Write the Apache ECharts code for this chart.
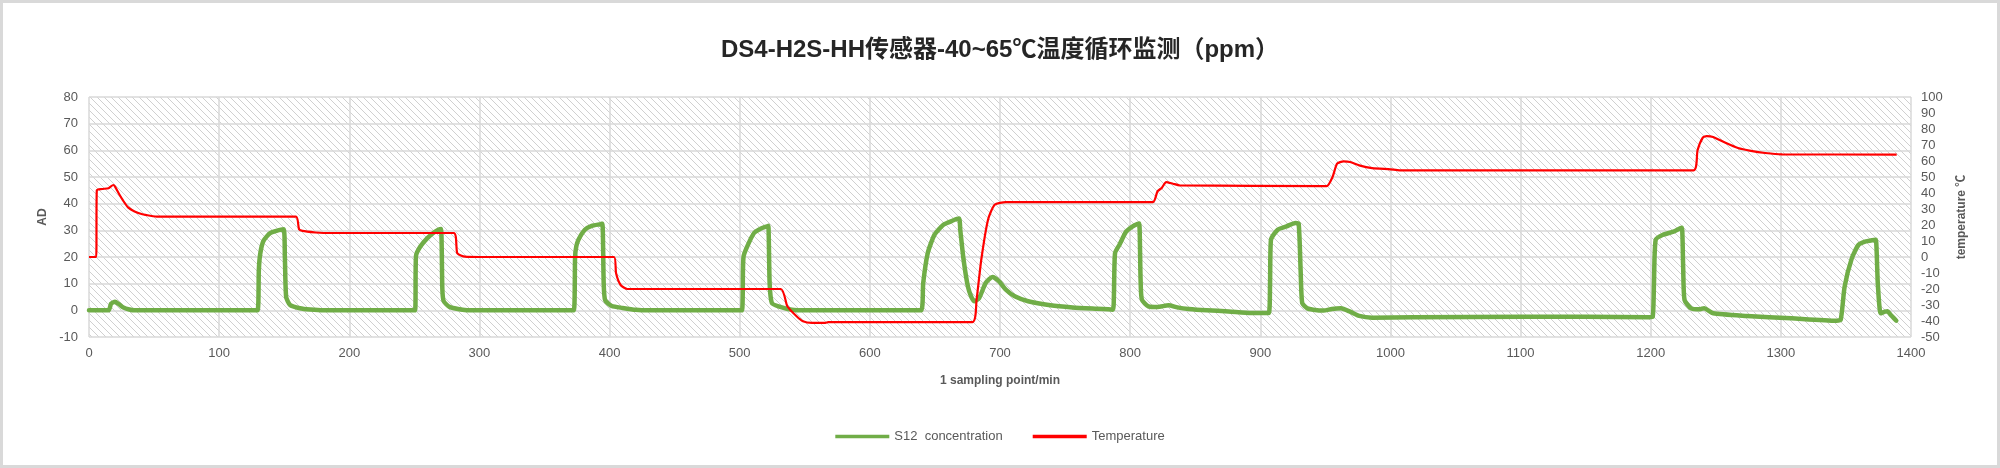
<!DOCTYPE html>
<html>
<head>
<meta charset="utf-8">
<script src="https://cdn.jsdelivr.net/npm/echarts@6/dist/echarts.min.js"></script>
<style>
html,body{margin:0;padding:0;background:#fff;}
#chart{width:2000px;height:468px;}
</style>
</head>
<body>
<div id="chart"></div>
<script>
// ---- data ----
var titleText = 'DS4-H2S-HH传感器-40~65℃温度循环监测（ppm）';
var seriesNames = ['S12  concentration', 'Temperature'];

// S12 concentration (AD, left axis)
var concX = [0,15,17,20,23,26,31,35,129.5,130.5,131.5,134,139,144,149.5,150.5,151.5,154.5,162,170,180,
  250.5,251.3,254.7,259.8,265,268.4,270.5,271.5,272.5,277,287,295,
  372.5,373.5,374.4,376,381,386.3,393,394.5,395.5,396.6,401.7,410,420,430,
  501.7,502.5,503,505.8,511,516,521,522,523,524.7,529.8,540,550,
  639.4,641,644.5,649.7,656.5,663.4,668.5,669.5,672,675.3,678,680.5,684,689,694.2,699.3,704.5,711.3,721.6,738.7,755.8,773,786.6,
  787.5,788.4,791.8,797,802,805.5,807,808,809,814,821,829.5,836.3,845,858.6,875.7,892.8,906.5,
  907.5,908.2,913.4,920.2,927,929.5,931,932.2,936,940.7,948.6,955,962,969,976,986,1017,1103,1150,1198.6,1201.5,
  1202.5,1203.8,1209,1217.5,1222.6,1224,1225,1226,1231,1238,1241,1248,1274,1308,1342.5,1346,
  1349,1354.5,1359.6,1364.7,1371.6,1373,1374.5,1376.7,1380,1382,1384,1388.7];
var concY = [0,0,2.5,3.2,2.3,1.2,0.3,0,0,15,21,26,28.9,29.8,30.4,20,5,2,0.8,0.3,0,
  0,20.5,24,27,29.2,30.2,30.5,8,3.5,1.3,0.2,0,
  0,20,23.9,26.4,30.2,31.7,32.3,32.5,10,3.8,1.6,0.9,0.2,0,
  0,15,20.3,24,29,30.6,31.5,31.7,10,2.75,1.5,0.25,0,
  0,10.25,21.5,28.4,32.1,33.6,34.4,30,19,9,5,3.4,4.6,10.25,12.5,10.9,7.75,5.25,3.4,1.9,1.1,0.6,0.25,
  5,21.5,24.6,29.6,31.5,32.4,32.6,12,4,1.5,1.25,1.9,1.1,0.5,0,-0.4,-1,-1,
  10,26.5,30.25,31.5,32.75,32.5,15,2.75,0.8,0.25,-0.1,0.5,0.75,-0.5,-2.1,-2.75,-2.6,-2.4,-2.4,-2.6,-2.5,
  10,26.4,28.25,29.5,30.75,31,15,3.9,0.75,0.4,0.8,-1.1,-2.1,-3,-3.9,-3.5,
  8.9,19.5,24.5,25.75,26.4,26.5,10,-1.1,-0.5,-0.3,-1.5,-3.9];

// Temperature (℃, right axis)
var tempX = [0,5.5,6,10,15,18.7,20,23,26,30,35,41,47,53,159,161.4,164,174,180,
  280.3,283,289,300,403.4,405,408.5,413.7,531.5,536.6,543.5,548.6,555.5,565.8,568,678.8,
  682,685.6,690.8,695.9,704.5,817.5,821,824.3,827.7,832.9,838,951,955.5,959,964,969,976,986,1000,1007,1233,
  1236,1240,1243,1248,1257,1267,1277,1288,1301,1389];
var tempY = [0,0,41.7,42.5,43,45,44,39.5,35.5,31,28.5,26.7,25.8,25.2,25.2,17.3,16.3,15.3,15,
  15,2.3,0.2,0,0,-10.2,-17.5,-20,-20,-30.8,-36.9,-40.2,-41.2,-41.2,-40.7,-40.7,
  -26.7,-1.7,23.3,32.7,34.3,34.3,41,43.2,46.8,45.8,44.8,44.3,50,58.3,59.8,59.4,57.3,55.6,54.8,54.2,54.2,
  66.7,74.6,75.6,75,71.5,68.1,66.3,65,64.2,64];

// axes
var xMin = 0, xMax = 1400, xStep = 100;
var adMin = -10, adMax = 80, adStep = 10;
var tMin = -50, tMax = 100, tStep = 10;

function zip(xs, ys){ var o=[]; for(var i=0;i<xs.length;i++) o.push([xs[i], ys[i]]); return o; }

// hatch pattern for plot background
var s = 7;
var pc = document.createElement('canvas');
pc.width = s; pc.height = s;
var g = pc.getContext('2d');
g.fillStyle = '#ffffff'; g.fillRect(0,0,s,s);
g.strokeStyle = '#d0d0d0'; g.lineWidth = 1;
g.beginPath();
g.moveTo(-1,-1); g.lineTo(s+1,s+1);
g.moveTo(s-1,-1); g.lineTo(s+1,1);
g.moveTo(-1,s-1); g.lineTo(1,s+1);
g.stroke();

var FONT = "'Liberation Sans', Arial, 'Noto Sans CJK SC', sans-serif";
var labelColor = '#595959';
var gridColor = '#d9d9d9';
function plain(v){ return String(v); }

var chart = echarts.init(document.getElementById('chart'), null, {renderer:'canvas'});
chart.setOption({
  animation: false,
  backgroundColor: '#ffffff',
  title: {
    text: titleText, left: 'center', top: 33,
    textStyle: {fontFamily: FONT, fontSize: 24, fontWeight: 'bold', color: '#262626'}
  },
  graphic: [{
    type: 'rect', silent: true, z: 100,
    shape: {x: 1.5, y: 1.5, width: 1997, height: 465},
    style: {fill: 'none', stroke: '#d9d9d9', lineWidth: 3}
  }],
  legend: {
    data: [{name: seriesNames[0], icon: 'rect'}, {name: seriesNames[1], icon: 'rect'}],
    left: 'center', top: 425,
    itemWidth: 54, itemHeight: 3.5, itemGap: 30,
    textStyle: {fontFamily: FONT, fontSize: 13, color: labelColor}
  },
  grid: {
    left: 89, right: 89, top: 97, bottom: 131, show: true,
    borderWidth: 0,
    backgroundColor: {image: pc, repeat: 'repeat'}
  },
  xAxis: {
    type: 'value', min: xMin, max: xMax, interval: xStep,
    name: '1 sampling point/min', nameLocation: 'middle', nameGap: 38,
    nameTextStyle: {fontFamily: FONT, fontSize: 12, fontWeight: 'bold', color: labelColor},
    axisLine: {show: false}, axisTick: {show: false},
    axisLabel: {fontFamily: FONT, fontSize: 13, color: labelColor, margin: 10, formatter: plain},
    splitLine: {show: true, lineStyle: {color: gridColor, width: 1.5}}
  },
  yAxis: [{
    type: 'value', min: adMin, max: adMax, interval: adStep, position: 'left',
    name: 'AD', nameLocation: 'middle', nameGap: 40, nameRotate: 90,
    nameTextStyle: {fontFamily: FONT, fontSize: 12, fontWeight: 'bold', color: labelColor},
    axisLine: {show: false}, axisTick: {show: false},
    axisLabel: {fontFamily: FONT, fontSize: 13, color: labelColor, margin: 11, formatter: plain},
    splitLine: {show: true, lineStyle: {color: gridColor, width: 1.5}}
  }, {
    type: 'value', min: tMin, max: tMax, interval: tStep, position: 'right',
    name: 'temperature ℃', nameLocation: 'middle', nameGap: 45, nameRotate: 90,
    nameTextStyle: {fontFamily: FONT, fontSize: 12, fontWeight: 'bold', color: labelColor},
    axisLine: {show: false}, axisTick: {show: false},
    axisLabel: {fontFamily: FONT, fontSize: 13, color: labelColor, margin: 10, formatter: plain},
    splitLine: {show: false}
  }],
  series: [{
    name: seriesNames[0], type: 'line', yAxisIndex: 0,
    data: zip(concX, concY), showSymbol: false, symbol: 'none', smooth: 0.2,
    lineStyle: {color: '#70AD47', width: 4.5, cap: 'round', join: 'round'},
    itemStyle: {color: '#70AD47'}, z: 2
  }, {
    name: seriesNames[1], type: 'line', yAxisIndex: 1,
    data: zip(tempX, tempY), showSymbol: false, symbol: 'none', smooth: 0.2,
    lineStyle: {color: '#FF0000', width: 2.2},
    itemStyle: {color: '#FF0000'}, z: 3
  }]
});
</script>
</body>
</html>
